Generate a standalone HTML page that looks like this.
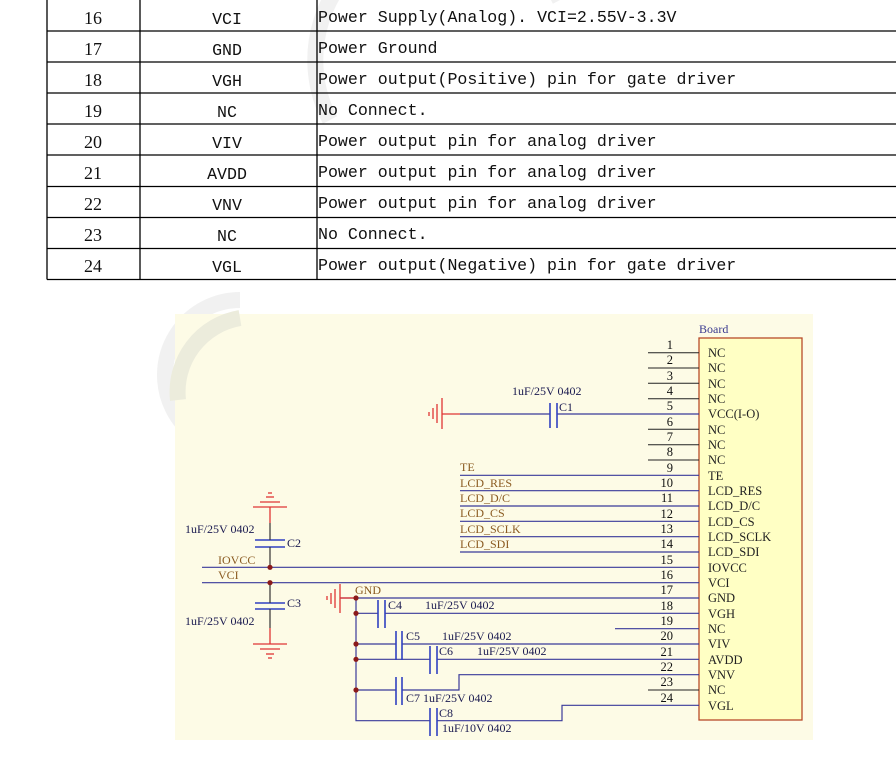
<!DOCTYPE html>
<html><head><meta charset="utf-8"><style>
html,body{margin:0;padding:0;background:#fff;width:896px;height:777px;overflow:hidden}
svg{display:block}
.t{font-family:"Liberation Mono","Noto Sans CJK SC",monospace;font-size:16.6px;fill:#111}
.n{font-family:"Liberation Serif",serif;font-size:18px;fill:#111}
.s{font-family:"Liberation Serif",serif;font-size:12px;fill:#1a1a50}
.b{font-family:"Liberation Serif",serif;font-size:12px;fill:#8a5a20}
.p{font-family:"Liberation Serif",serif;font-size:12.5px;fill:#111}
.pl{font-family:"Liberation Serif",serif;font-size:12.5px;fill:#222}
</style></head><body>
<svg width="896" height="777" viewBox="0 0 896 777" xmlns="http://www.w3.org/2000/svg">
<!-- watermark -->
<g fill="none" stroke="#f1f1f1" stroke-width="16">
<path d="M240,300 A75,75 0 1 0 300,420"/>
<path d="M250,350 L330,330"/>
<path d="M330,120 A120,120 0 0 1 560,0"/>
</g>
<!-- table -->
<g stroke="#000" stroke-width="1.3">
<line x1="47" y1="0" x2="47" y2="279.5"/>
<line x1="140" y1="0" x2="140" y2="279.5"/>
<line x1="317" y1="0" x2="317" y2="279.5"/>
<line x1="47" y1="31" x2="896" y2="31"/>
<line x1="47" y1="62" x2="896" y2="62"/>
<line x1="47" y1="93" x2="896" y2="93"/>
<line x1="47" y1="124" x2="896" y2="124"/>
<line x1="47" y1="155" x2="896" y2="155"/>
<line x1="47" y1="186.5" x2="896" y2="186.5"/>
<line x1="47" y1="217.5" x2="896" y2="217.5"/>
<line x1="47" y1="248.5" x2="896" y2="248.5"/>
<line x1="47" y1="279.5" x2="896" y2="279.5"/>
</g>
<g class="n" text-anchor="middle">
<text x="93" y="24">16</text><text x="93" y="55">17</text><text x="93" y="86">18</text>
<text x="93" y="117">19</text><text x="93" y="148">20</text><text x="93" y="179">21</text>
<text x="93" y="210">22</text><text x="93" y="241">23</text><text x="93" y="272">24</text>
</g>
<g class="t" text-anchor="middle">
<text x="227" y="24">VCI</text><text x="227" y="55">GND</text><text x="227" y="86">VGH</text>
<text x="227" y="117">NC</text><text x="227" y="148">VIV</text><text x="227" y="179">AVDD</text>
<text x="227" y="210">VNV</text><text x="227" y="241">NC</text><text x="227" y="272">VGL</text>
</g>
<g class="t">
<text x="318" y="22">Power Supply(Analog). VCI=2.55V-3.3V</text>
<text x="318" y="53">Power Ground</text>
<text x="318" y="84">Power output(Positive) pin for gate driver</text>
<text x="318" y="115">No Connect.</text>
<text x="318" y="146">Power output pin for analog driver</text>
<text x="318" y="177">Power output pin for analog driver</text>
<text x="318" y="208">Power output pin for analog driver</text>
<text x="318" y="239">No Connect.</text>
<text x="318" y="270">Power output(Negative) pin for gate driver</text>
</g>
<!-- schematic background -->
<rect x="175" y="314" width="638" height="426" fill="#fdfbe6"/>
<path d="M178,400 A75,75 0 0 1 240,318" fill="none" stroke="#ececdc" stroke-width="16"/>
<!-- board -->
<text x="699" y="333" class="b" style="fill:#3a3a90">Board</text>
<rect x="699" y="338" width="103" height="382" fill="#ffffc4" stroke="#b84a2a" stroke-width="1.3"/>
<!-- pin stubs -->
<g stroke="#222" stroke-width="1">
<line x1="648" y1="352.7" x2="699" y2="352.7"/>
<line x1="648" y1="368" x2="699" y2="368"/>
<line x1="648" y1="383.3" x2="699" y2="383.3"/>
<line x1="648" y1="398.7" x2="699" y2="398.7"/>
<line x1="648" y1="429.3" x2="699" y2="429.3"/>
<line x1="648" y1="444.7" x2="699" y2="444.7"/>
<line x1="648" y1="460" x2="699" y2="460"/>
<line x1="648" y1="690" x2="699" y2="690"/>
</g>
<g class="p" text-anchor="end">
<text x="673" y="349">1</text><text x="673" y="364">2</text><text x="673" y="380">3</text>
<text x="673" y="395">4</text><text x="673" y="410">5</text><text x="673" y="426">6</text>
<text x="673" y="441">7</text><text x="673" y="456">8</text><text x="673" y="472">9</text>
<text x="673" y="487">10</text><text x="673" y="502">11</text><text x="673" y="518">12</text>
<text x="673" y="533">13</text><text x="673" y="548">14</text><text x="673" y="564">15</text>
<text x="673" y="579">16</text><text x="673" y="594">17</text><text x="673" y="610">18</text>
<text x="673" y="625">19</text><text x="673" y="640">20</text><text x="673" y="656">21</text>
<text x="673" y="671">22</text><text x="673" y="686">23</text><text x="673" y="702">24</text>
</g>
<g class="pl">
<text x="708" y="357">NC</text><text x="708" y="372">NC</text><text x="708" y="388">NC</text>
<text x="708" y="403">NC</text><text x="708" y="418">VCC(I-O)</text><text x="708" y="434">NC</text>
<text x="708" y="449">NC</text><text x="708" y="464">NC</text><text x="708" y="480">TE</text>
<text x="708" y="495">LCD_RES</text><text x="708" y="510">LCD_D/C</text><text x="708" y="526">LCD_CS</text>
<text x="708" y="541">LCD_SCLK</text><text x="708" y="556">LCD_SDI</text><text x="708" y="572">IOVCC</text>
<text x="708" y="587">VCI</text><text x="708" y="602">GND</text><text x="708" y="618">VGH</text>
<text x="708" y="633">NC</text><text x="708" y="648">VIV</text><text x="708" y="664">AVDD</text>
<text x="708" y="679">VNV</text><text x="708" y="694">NC</text><text x="708" y="710">VGL</text>
</g>
<!-- blue wires -->
<g stroke="#3a3a9a" stroke-width="1.2" fill="none">
<line x1="460" y1="414" x2="550" y2="414"/>
<line x1="557" y1="414" x2="699" y2="414"/>
<line x1="460" y1="475.3" x2="699" y2="475.3"/>
<line x1="460" y1="490.7" x2="699" y2="490.7"/>
<line x1="460" y1="506" x2="699" y2="506"/>
<line x1="460" y1="521.3" x2="699" y2="521.3"/>
<line x1="460" y1="536.7" x2="699" y2="536.7"/>
<line x1="460" y1="552" x2="699" y2="552"/>
<line x1="202" y1="567.3" x2="699" y2="567.3"/>
<line x1="202" y1="582.7" x2="699" y2="582.7"/>
<line x1="340" y1="598" x2="699" y2="598"/>
<line x1="356" y1="613.3" x2="378" y2="613.3"/>
<line x1="385" y1="613.3" x2="699" y2="613.3"/>
<line x1="615" y1="628.7" x2="699" y2="628.7"/>
<line x1="356" y1="644" x2="396" y2="644"/>
<line x1="402" y1="644" x2="699" y2="644"/>
<line x1="356" y1="659.3" x2="430" y2="659.3"/>
<line x1="437" y1="659.3" x2="699" y2="659.3"/>
<polyline points="356,690 396,690"/>
<polyline points="402,690 459,690 459,674.7 699,674.7"/>
<polyline points="356,598 356,720.7 430,720.7"/>
<polyline points="437,720.7 562,720.7 562,705.3 699,705.3"/>
</g>
<!-- caps -->
<g stroke="#3040c0" stroke-width="1.6">
<line x1="550" y1="403" x2="550" y2="428"/><line x1="557" y1="403" x2="557" y2="428"/>
<line x1="378" y1="600" x2="378" y2="628"/><line x1="385" y1="600" x2="385" y2="628"/>
<line x1="396" y1="631" x2="396" y2="660"/><line x1="402" y1="631" x2="402" y2="660"/>
<line x1="430" y1="646" x2="430" y2="674"/><line x1="437" y1="646" x2="437" y2="674"/>
<line x1="396" y1="677" x2="396" y2="705"/><line x1="402" y1="677" x2="402" y2="705"/>
<line x1="430" y1="708" x2="430" y2="736"/><line x1="437" y1="708" x2="437" y2="736"/>
<line x1="255" y1="540" x2="285" y2="540"/><line x1="255" y1="547" x2="285" y2="547"/>
<line x1="255" y1="603" x2="285" y2="603"/><line x1="255" y1="609" x2="285" y2="609"/>
</g>
<!-- black verticals -->
<g stroke="#333" stroke-width="1.2">
<line x1="270" y1="523" x2="270" y2="540"/><line x1="270" y1="547" x2="270" y2="567"/>
<line x1="270" y1="583" x2="270" y2="603"/><line x1="270" y1="609" x2="270" y2="628"/>
</g>
<!-- red grounds -->
<g stroke="#e03535" stroke-width="1.3">
<line x1="442" y1="414" x2="460" y2="414"/>
<line x1="442" y1="398" x2="442" y2="429"/>
<line x1="437" y1="404" x2="437" y2="423"/>
<line x1="433" y1="408" x2="433" y2="419"/>
<line x1="429" y1="412" x2="429" y2="416"/>
<line x1="270" y1="507" x2="270" y2="523"/>
<line x1="253" y1="507" x2="287" y2="507"/>
<line x1="260" y1="502" x2="280" y2="502"/>
<line x1="266" y1="497" x2="274" y2="497"/>
<line x1="268" y1="493" x2="272" y2="493"/>
<line x1="270" y1="628" x2="270" y2="644"/>
<line x1="253" y1="644" x2="287" y2="644"/>
<line x1="260" y1="649" x2="280" y2="649"/>
<line x1="266" y1="654" x2="274" y2="654"/>
<line x1="268" y1="658" x2="272" y2="658"/>
<line x1="340" y1="598" x2="356" y2="598"/>
<line x1="340" y1="584" x2="340" y2="613"/>
<line x1="335" y1="589" x2="335" y2="608"/>
<line x1="331" y1="593" x2="331" y2="604"/>
<line x1="327" y1="596" x2="327" y2="600"/>
</g>
<!-- junctions -->
<g fill="#8b1a1a">
<circle cx="270" cy="567.3" r="2.6"/><circle cx="270" cy="582.7" r="2.6"/>
<circle cx="356" cy="598" r="2.6"/><circle cx="356" cy="613.3" r="2.6"/>
<circle cx="356" cy="644" r="2.6"/><circle cx="356" cy="659.3" r="2.6"/>
<circle cx="356" cy="690" r="2.6"/>
</g>
<!-- labels -->
<g class="b">
<text x="460" y="471">TE</text><text x="460" y="487">LCD_RES</text><text x="460" y="502">LCD_D/C</text>
<text x="460" y="517">LCD_CS</text><text x="460" y="533">LCD_SCLK</text><text x="460" y="548">LCD_SDI</text>
<text x="218" y="564">IOVCC</text><text x="218" y="579">VCI</text><text x="355" y="594">GND</text>
</g>
<g class="s">
<text x="512" y="395">1uF/25V 0402</text><text x="559" y="411">C1</text>
<text x="185" y="533">1uF/25V 0402</text><text x="287" y="547">C2</text>
<text x="185" y="625">1uF/25V 0402</text><text x="287" y="607">C3</text>
<text x="388" y="609">C4</text><text x="425" y="609">1uF/25V 0402</text>
<text x="406" y="640">C5</text><text x="442" y="640">1uF/25V 0402</text>
<text x="439" y="655">C6</text><text x="477" y="655">1uF/25V 0402</text>
<text x="406" y="702">C7 1uF/25V 0402</text>
<text x="439" y="717">C8</text><text x="442" y="732">1uF/10V 0402</text>
</g>
</svg>
</body></html>
